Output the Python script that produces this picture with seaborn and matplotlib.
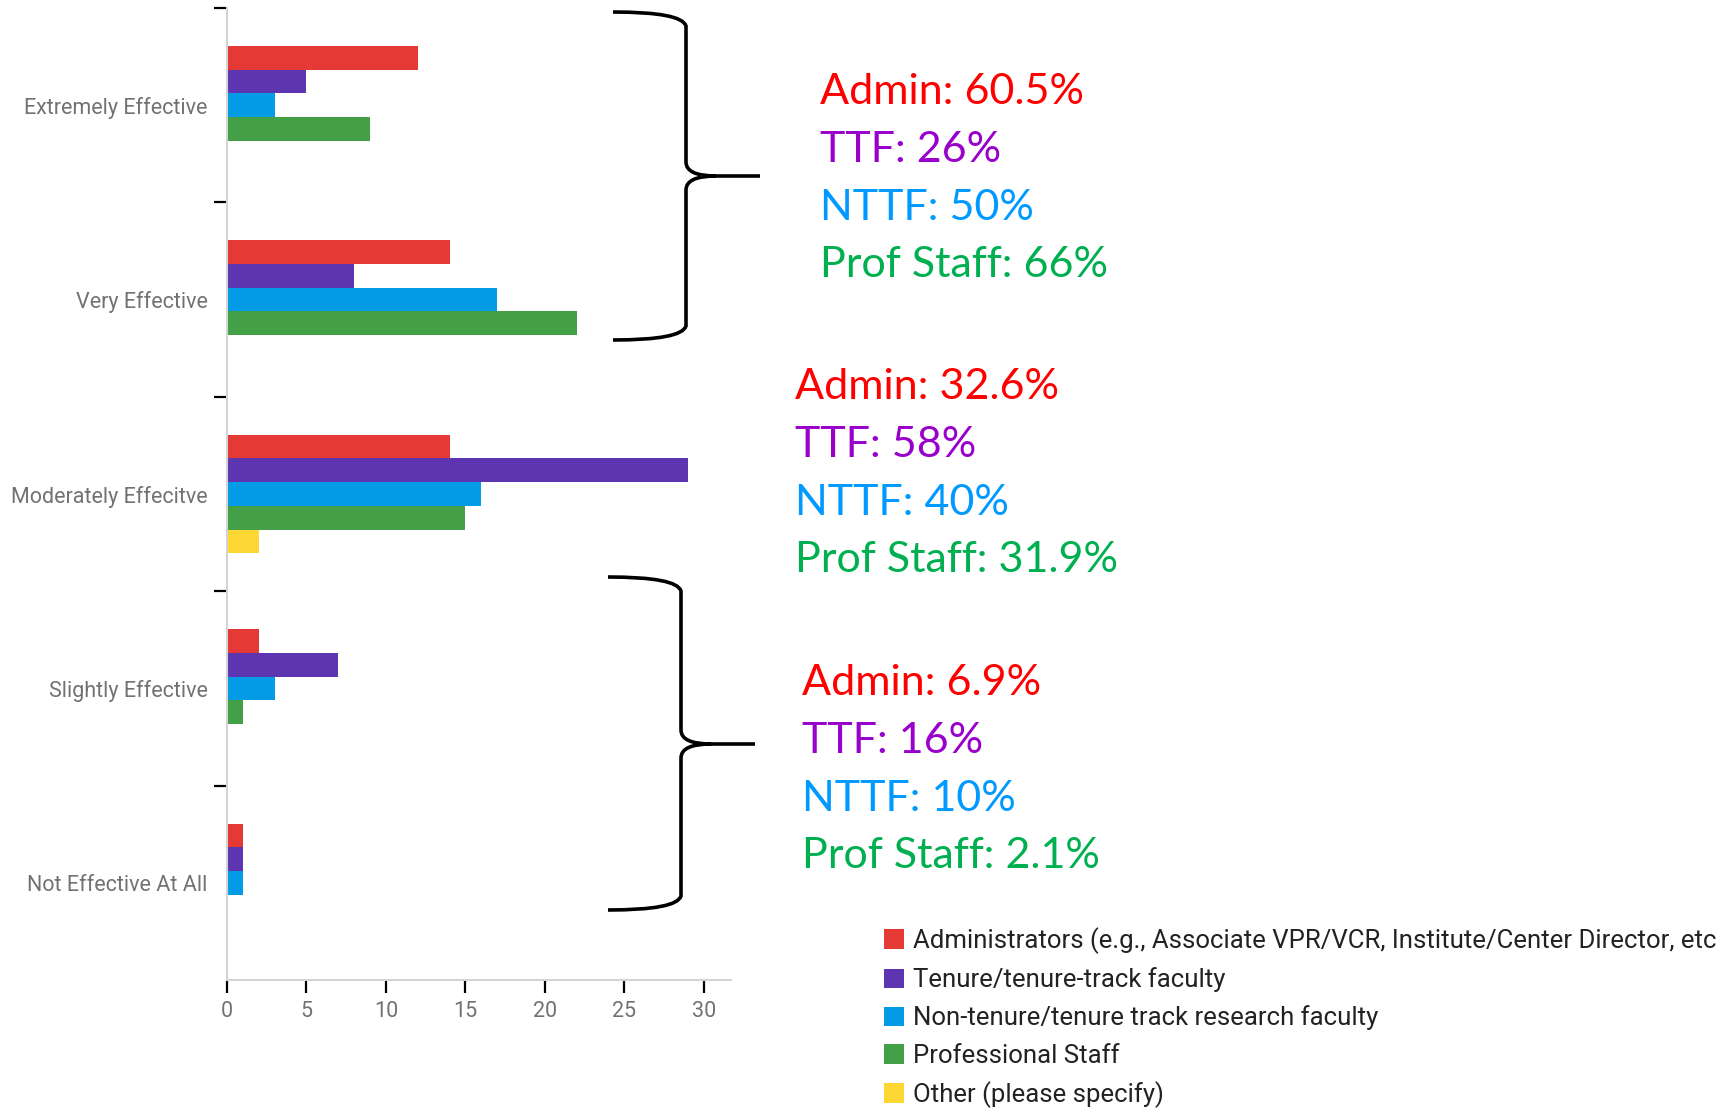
import matplotlib
matplotlib.use("Agg")
import matplotlib.pyplot as plt
from matplotlib.path import Path
from matplotlib.patches import PathPatch
import pandas as pd
import seaborn as sns

# survey answers (counts per respondent group)
categories = ["Extremely Effective", "Very Effective", "Moderately Effecitve",
              "Slightly Effective", "Not Effective At All"]
groups = ["Administrators (e.g., Associate VPR/VCR, Institute/Center Director, etc",
          "Tenure/tenure-track faculty",
          "Non-tenure/tenure track research faculty",
          "Professional Staff",
          "Other (please specify)"]
admin = [12, 14, 14, 2, 1]
ttf = [5, 8, 29, 7, 1]
nttf = [3, 17, 16, 3, 1]
prof_staff = [9, 22, 15, 1, 0]
other = [0, 0, 2, 0, 0]
bar_colors = ["#e53935", "#5e35b1", "#039be5", "#43a047", "#fdd835"]
x_ticks = [0, 5, 10, 15, 20, 25, 30]

# percentage call-outs next to the braces
notes_top = ["Admin: 60.5%", "TTF: 26%", "NTTF: 50%", "Prof Staff: 66%"]
notes_mid = ["Admin: 32.6%", "TTF: 58%", "NTTF: 40%", "Prof Staff: 31.9%"]
notes_low = ["Admin: 6.9%", "TTF: 16%", "NTTF: 10%", "Prof Staff: 2.1%"]
note_colors = ["#ff0000", "#9900cc", "#0099ff", "#00b050"]

W, H = 1733, 1114

rows = []
for g, vals in zip(groups, [admin, ttf, nttf, prof_staff, other]):
    for c, v in zip(categories, vals):
        rows.append({"response": c, "group": g, "count": v})
df = pd.DataFrame(rows)

sns.set_style("white")
plt.rcParams["font.family"] = ["Roboto", "DejaVu Sans"]

fig = plt.figure(figsize=(W / 100, H / 100), dpi=100)
ax = fig.add_axes([227 / W, 1 - 980 / H, (731 - 227) / W, (980 - 8) / H])

sns.barplot(data=df, x="count", y="response", hue="group", order=categories,
            hue_order=groups, palette=bar_colors, orient="h", width=0.61,
            saturation=1, linewidth=0, ax=ax)

ax.set_xlim(0, 31.7)
ax.set_ylim(4.5, -0.5)
ax.set_xlabel("")
ax.set_ylabel("")
ax.set_xticks(x_ticks)
ax.set_yticks(range(len(categories)))
ax.set_yticklabels(categories)
ax.set_yticks([-0.5, 0.5, 1.5, 2.5, 3.5], minor=True)
ax.tick_params(axis="y", which="major", length=0, pad=14, labelsize=15.5,
               labelcolor="#727272")
ax.tick_params(axis="y", which="minor", left=True, length=9.5, width=1.6,
               color="black")
ax.tick_params(axis="x", bottom=True, length=9, width=1.6, color="black",
               labelsize=15.5, labelcolor="#727272", pad=6)
for side in ["top", "right"]:
    ax.spines[side].set_visible(False)
for side in ["left", "bottom"]:
    ax.spines[side].set_color("#d4d4d4")
    ax.spines[side].set_linewidth(1.5)

handles, labels = ax.get_legend_handles_labels()
ax.legend_.remove()
fig.legend(handles, labels, loc="upper left",
           bbox_to_anchor=(884 / W, 1 - 927 / H), frameon=False,
           borderpad=0, borderaxespad=0, handlelength=0.78, handleheight=0.78,
           handletextpad=0.35, labelspacing=0.52, fontsize=18.5,
           labelcolor="#222222")


def brace(x_end, x_spine, x_tip, y_top, y_mid, y_bot):
    r = 14
    pts = [
        (x_end, y_top), (x_spine - 4, y_top), (x_spine, y_top + r),
        (x_spine, y_mid - r), (x_spine, y_mid), (x_spine + 30, y_mid),
        (x_tip, y_mid),
        (x_spine + 30, y_mid), (x_spine, y_mid), (x_spine, y_mid + r),
        (x_spine, y_bot - r), (x_spine - 4, y_bot), (x_end, y_bot),
    ]
    codes = [Path.MOVETO, Path.CURVE3, Path.CURVE3,
             Path.LINETO, Path.CURVE3, Path.CURVE3,
             Path.LINETO,
             Path.MOVETO, Path.CURVE3, Path.CURVE3,
             Path.LINETO, Path.CURVE3, Path.CURVE3]
    verts = [(x / W, 1 - y / H) for x, y in pts]
    fig.patches.append(PathPatch(Path(verts, codes), fill=False, lw=2.6,
                                 edgecolor="black", transform=fig.transFigure,
                                 capstyle="butt", joinstyle="round"))


brace(613, 686, 760, 12, 176, 340)
brace(608, 681, 755, 577, 744, 910)

for notes, x0, y0 in [(notes_top, 820, 104), (notes_mid, 795, 399),
                      (notes_low, 802, 695)]:
    for i, (txt, col) in enumerate(zip(notes, note_colors)):
        fig.text(x0 / W, 1 - (y0 + i * 57.8) / H, txt, color=col,
                 fontsize=31, family=["Lato", "DejaVu Sans"], va="baseline",
                 ha="left")

fig.savefig("out.png", dpi=100)
